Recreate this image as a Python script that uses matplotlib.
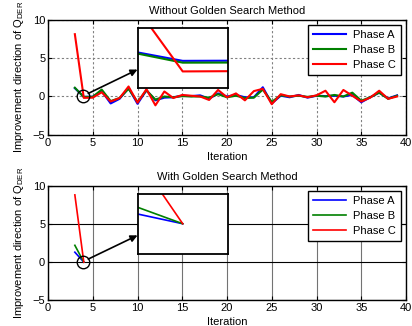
import matplotlib
matplotlib.use('Agg')  # Non-interactive backend

import matplotlib.pyplot as plt
import numpy as np

# Iterations 3..39, values
iterations = np.arange(3, 40)

# Without golden search method
phase_a = [1.08, -0.04, -0.02, 0.7, -0.9, -0.3, 1.1, -0.95, 0.8, -0.5,
           -0.15, -0.1, 0.1, 0.05, 0.15, -0.3, 0.4, 0.0, 0.2, -0.1,
           -0.1, 1.2, -0.9, 0.1, -0.1, 0.2, -0.15, 0.1, 0.05, 0.1,
           0.0, 0.2, -0.75, -0.1, 0.5, -0.25, 0.15]
phase_b = [1.14, -0.064, -0.05, 0.9, -0.6, -0.2, 1.0, -0.7, 0.8, -0.4,
           0.0, -0.1, 0.05, 0.0, 0.0, -0.15, 0.3, -0.1, 0.1, -0.2,
           -0.15, 0.9, -0.7, 0.15, 0.0, 0.1, -0.05, 0.1, 0.0, 0.2,
           0.0, 0.5, -0.55, -0.1, 0.5, -0.3, 0.1]
phase_c = [8.1, -0.18, -0.15, 0.55, -0.65, -0.2, 1.3, -0.8, 0.95, -1.15,
           0.65, -0.2, 0.2, 0.1, 0.0, -0.45, 0.85, -0.1, 0.4, -0.5,
           0.7, 1.0, -1.0, 0.3, 0.0, 0.15, -0.1, 0.15, 0.75, -0.75,
           0.85, 0.1, -0.65, -0.15, 0.75, -0.3, 0.0]

# With golden search method (converges at iteration 4)
gs_iterations = [3, 4]
gs_phase_a = [1.3, 0.0]
gs_phase_b = [2.2, 0.0]
gs_phase_c = [8.8, 0.0]

labels = ['Phase A', 'Phase B', 'Phase C']
colors = ['#0000ff', '#008000', '#ff0000']

plt.rcParams['font.family'] = ['Liberation Sans', 'DejaVu Sans']
plt.rcParams['mathtext.fontset'] = 'custom'
plt.rcParams['mathtext.rm'] = 'Liberation Sans'
plt.rcParams['mathtext.it'] = 'Liberation Sans'
plt.rcParams['font.size'] = 8

DPI = 100
fig = plt.figure(figsize=(4.12, 3.26), dpi=DPI)
ax1 = fig.add_axes([0.1165, 0.586, 0.869, 0.354])
ax2 = fig.add_axes([0.1165, 0.0788, 0.869, 0.3515])


def style_axes(ax, title, grid_style):
    ax.set_xlim(0, 40)
    ax.set_ylim(-5, 10)
    ax.set_xticks(np.arange(0, 41, 5))
    ax.set_yticks([-5, 0, 5, 10])
    ax.tick_params(direction='in', top=True, right=True, length=3, pad=2)
    for s in ax.spines.values():
        s.set_linewidth(1.0)
    ax.set_title(title, fontsize=8, pad=4)
    ax.set_xlabel('Iteration', labelpad=3)
    ax.set_ylabel(r'Improvement direction of Q$_{\mathrm{DER}}$', labelpad=5)
    if grid_style == 'dotted':
        ax.grid(True, color='0.5', linestyle=(0, (2, 2)), linewidth=0.8)
    else:
        ax.xaxis.grid(True, color='0.45', linestyle='-', linewidth=0.8)
        ax.yaxis.grid(True, color='k', linestyle='-', linewidth=0.8)
    ax.set_axisbelow(True)


def add_zoom(ax, xs, series, lw, arrow_start):
    ins = ax.inset_axes([10, 1.1, 10.1, 7.85], transform=ax.transData)
    for ys, c in zip(series, colors):
        ins.plot(xs, ys, color=c, linewidth=lw)
    ins.set_xlim(3.9, 4.1)
    ins.set_ylim(-0.4, 0.4)
    ins.set_xticks([])
    ins.set_yticks([])
    for s in ins.spines.values():
        s.set_linewidth(1.3)
    ins.set_zorder(5)
    # circle around the zoomed point and arrow to the inset
    ax.plot([3.95], [0.0], marker='o', markersize=9, markerfacecolor='none',
            markeredgecolor='k', markeredgewidth=1.0, zorder=6)
    ax.annotate('', xy=(10, arrow_start[1] + 3.1), xytext=arrow_start,
                arrowprops=dict(arrowstyle='-|>', color='k', lw=1.2,
                                mutation_scale=10, shrinkA=0, shrinkB=0),
                zorder=6)


def add_legend(ax):
    leg = ax.legend(loc='upper right', fancybox=False, framealpha=1,
                    edgecolor='k', handlelength=3.0, borderaxespad=0.45,
                    labelspacing=0.45, borderpad=0.45, handletextpad=0.6)
    leg.get_frame().set_linewidth(1.0)


# Top: without golden search
for ys, c, lab in zip([phase_a, phase_b, phase_c], colors, labels):
    ax1.plot(iterations, ys, color=c, linewidth=1.5, label=lab)
style_axes(ax1, 'Without Golden Search Method', 'dotted')
add_zoom(ax1, iterations, [phase_a, phase_b, phase_c], 1.5, (4.5, 0.4))
add_legend(ax1)

# Bottom: with golden search
for ys, c, lab in zip([gs_phase_a, gs_phase_b, gs_phase_c], colors, labels):
    ax2.plot(gs_iterations, ys, color=c, linewidth=1.2, label=lab)
style_axes(ax2, 'With Golden Search Method', 'solid')
add_zoom(ax2, gs_iterations, [gs_phase_a, gs_phase_b, gs_phase_c], 1.2,
         (4.5, 0.4))
add_legend(ax2)

plt.savefig('out.png', dpi=DPI)
